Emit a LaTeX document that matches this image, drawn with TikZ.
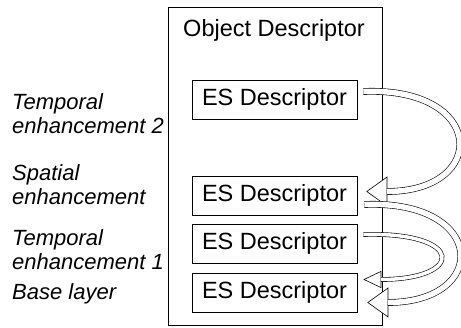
\documentclass[tikz,border=0pt]{standalone}
\usepackage{fontspec}
\setmainfont{Liberation Sans}
\usetikzlibrary{arrows.meta}

\tikzset{
  esbox/.style={draw, line width=0.6pt, minimum width=165pt, minimum height=39pt, inner sep=0pt,
    font=\fontsize{23.5}{26}\selectfont},
  layer/.style={anchor=west, align=left, inner sep=0pt, font=\fontsize{22}{24}\selectfont\itshape},
  hollow/.style={line width=0.6pt, -{Triangle[open, fill=white, length=21pt, width=30pt]},
    postaction={draw, -, double=white, double distance=5.5pt, shorten >=20.5pt}},
  thinhollow/.style={line width=0.6pt, -{Triangle[open, fill=white, length=18pt, width=17pt]},
    postaction={draw, -, double=white, double distance=3.5pt, shorten >=17.5pt}}
}

\begin{document}
\begin{tikzpicture}[x=1pt, y=-1pt]
\useasboundingbox (0,0) rectangle (461,328);

% Object descriptor
\node[draw, line width=0.6pt, minimum width=214pt, minimum height=318pt, inner sep=0pt] (od) at (275,166) {};
\node[anchor=base, font=\fontsize{23.5}{26}\selectfont] (title) at (274,37) {Object Descriptor};

% ES descriptors
\node[esbox] (es1) at (274.5,99.5) {ES Descriptor};
\node[esbox] (es2) at (274.5,195.5) {ES Descriptor};
\node[esbox] (es3) at (274.5,243.5) {ES Descriptor};
\node[esbox] (es4) at (274.5,292.5) {ES Descriptor};

% Layer labels
\node[layer] (temp2) at (12,114) {Temporal\\enhancement 2};
\node[layer] (spat) at (12,185) {Spatial\\enhancement};
\node[layer] (temp1) at (12,250) {Temporal\\enhancement 1};
\node[layer] (base) at (12,294) {Base layer};

% Dependencies
\draw[hollow] ([xshift=6pt,yshift=8pt]es1.east) .. controls +(123,-5) and +(123,0) .. ([xshift=9pt,yshift=4pt]es2.east);
\draw[hollow] ([xshift=7pt,yshift=-9pt]es2.east) .. controls +(123,-5) and +(123,0) .. ([xshift=10pt,yshift=-10pt]es4.east);
\draw[thinhollow] ([xshift=6pt,yshift=9pt]es3.east) .. controls +(102,-3) and +(102,0) .. ([xshift=6pt,yshift=13pt]es4.east);

\end{tikzpicture}
\end{document}
